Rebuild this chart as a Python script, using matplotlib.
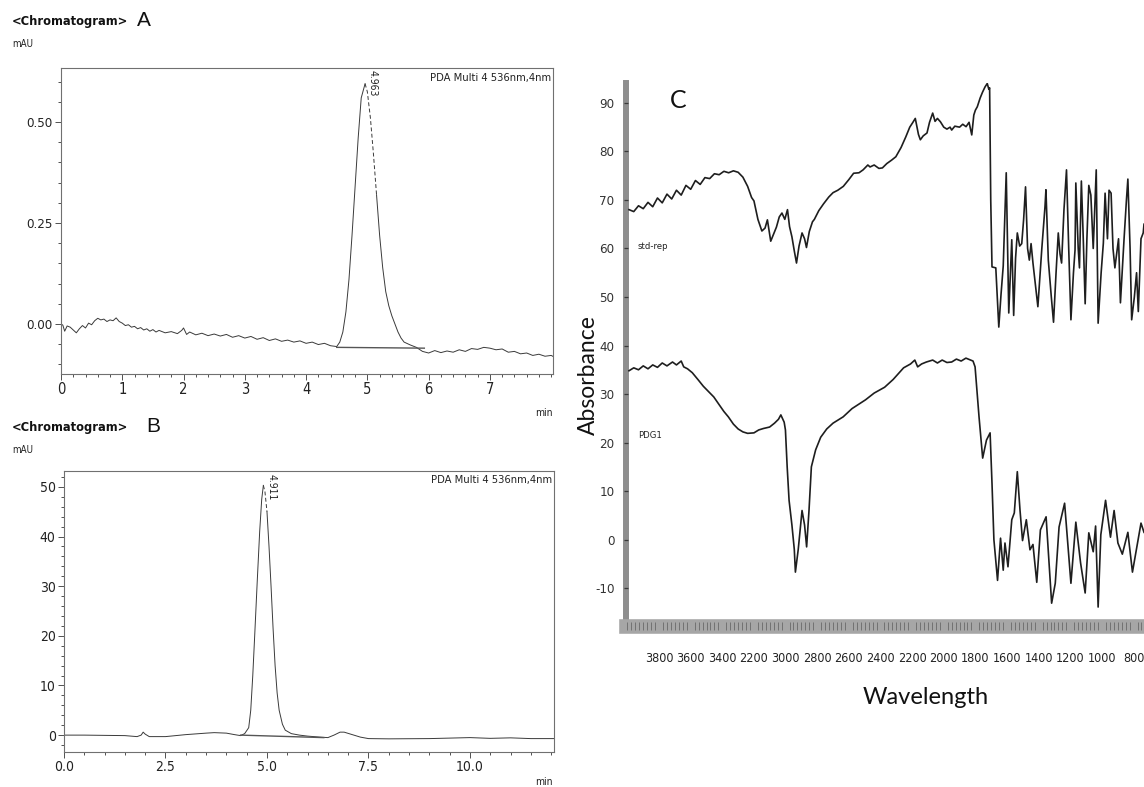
import numpy as np
import matplotlib
matplotlib.use('Agg')
import matplotlib.pyplot as plt
from matplotlib.ticker import MultipleLocator, FixedLocator, FormatStrFormatter

plt.rcParams['axes.unicode_minus'] = False

W, H = 1144, 787
NARROW = ['DejaVu Sans']
CALI = ['Lato', 'DejaVu Sans']

# ---------------- data: panel A (HPLC, standard) ----------------
a_time = [0.00, 0.03, 0.06, 0.10, 0.15, 0.20, 0.25, 0.30, 0.35, 0.40, 0.45, 0.50,
          0.55, 0.60, 0.65, 0.70, 0.75, 0.80, 0.85, 0.90, 0.95, 1.00, 1.05, 1.10,
          1.15, 1.20, 1.25, 1.30, 1.35, 1.40, 1.45, 1.50, 1.55, 1.60, 1.70, 1.80,
          1.90, 1.97, 2.00, 2.05, 2.10, 2.20, 2.30, 2.40, 2.50, 2.60, 2.70, 2.80,
          2.90, 3.00, 3.10, 3.20, 3.30, 3.40, 3.50, 3.60, 3.70, 3.80, 3.90, 4.00,
          4.10, 4.20, 4.30, 4.40, 4.50, 4.55, 4.60, 4.65, 4.70, 4.75, 4.80, 4.85,
          4.90, 4.963, 5.00, 5.05, 5.10, 5.15, 5.20, 5.25, 5.30, 5.35, 5.40, 5.45,
          5.50, 5.55, 5.60, 5.70, 5.80, 5.90, 6.00, 6.10, 6.20, 6.30, 6.40, 6.50,
          6.60, 6.70, 6.80, 6.90, 7.00, 7.10, 7.20, 7.30, 7.40, 7.50, 7.60, 7.70,
          7.80, 7.90, 8.00, 8.05]
a_mau = [0.000, -0.003, -0.018, -0.005, -0.008, -0.015, -0.022, -0.012, -0.004, -0.010,
         0.002, -0.002, 0.008, 0.014, 0.010, 0.012, 0.006, 0.010, 0.008, 0.015, 0.006,
         0.002, -0.004, -0.002, -0.008, -0.006, -0.012, -0.009, -0.015, -0.012, -0.018,
         -0.014, -0.020, -0.016, -0.022, -0.019, -0.024, -0.016, -0.010, -0.026, -0.020,
         -0.027, -0.023, -0.029, -0.025, -0.030, -0.026, -0.033, -0.029, -0.035, -0.031,
         -0.038, -0.034, -0.041, -0.037, -0.043, -0.040, -0.045, -0.042, -0.048, -0.045,
         -0.051, -0.048, -0.054, -0.056, -0.045, -0.020, 0.030, 0.110, 0.220, 0.340,
         0.460, 0.560, 0.595, 0.575, 0.510, 0.420, 0.320, 0.220, 0.140, 0.080, 0.045,
         0.020, 0.000, -0.020, -0.035, -0.045, -0.052, -0.058, -0.068, -0.072, -0.066,
         -0.071, -0.067, -0.070, -0.064, -0.068, -0.061, -0.063, -0.058, -0.060, -0.064,
         -0.062, -0.070, -0.068, -0.074, -0.072, -0.078, -0.075, -0.080, -0.078, -0.082]
a_base_t = [4.50, 5.93]
a_base_y = [-0.058, -0.060]
a_rt = 4.963

# ---------------- data: panel B (HPLC, sample) ----------------
b_time = [0.0, 0.5, 1.0, 1.5, 1.8, 1.9, 1.95, 2.0, 2.1, 2.5, 3.0, 3.5, 3.7, 4.0, 4.2,
          4.35, 4.45, 4.55, 4.60, 4.65, 4.70, 4.76, 4.82, 4.87, 4.911, 4.95, 5.00, 5.05,
          5.10, 5.15, 5.20, 5.25, 5.30, 5.38, 5.45, 5.60, 5.80, 6.00, 6.30, 6.50, 6.65,
          6.80, 6.90, 7.10, 7.30, 7.50, 8.00, 9.00, 10.0, 10.5, 11.0, 11.5, 12.1]
b_mau = [0.0, 0.0, -0.05, -0.1, -0.3, 0.0, 0.6, 0.2, -0.3, -0.3, 0.1, 0.4, 0.5, 0.4,
         0.1, -0.1, 0.3, 1.5, 5.0, 12.0, 20.5, 31.0, 41.0, 47.5, 50.3, 49.0, 45.0, 38.0,
         30.0, 21.5, 14.0, 8.5, 5.0, 2.2, 1.0, 0.3, 0.0, -0.2, -0.4, -0.5, 0.0, 0.6, 0.6,
         0.1, -0.4, -0.7, -0.75, -0.7, -0.5, -0.65, -0.55, -0.7, -0.7]
b_base_t = [4.35, 6.40]
b_base_y = [0.0, -0.5]
b_rt = 4.911

# ---------------- data: panel C (IR spectra) ----------------
std_wn = [3990, 3960, 3930, 3900, 3870, 3840, 3810, 3780, 3750, 3720, 3690, 3660, 3630,
          3600, 3570, 3540, 3510, 3480, 3450, 3420, 3390, 3360, 3330, 3300, 3270, 3240,
          3215, 3200, 3175, 3150, 3130, 3115, 3094, 3075, 3058, 3040, 3023, 3005, 2988,
          2975, 2960, 2945, 2931, 2915, 2896, 2880, 2868, 2850, 2830, 2818, 2790, 2760,
          2727, 2700, 2670, 2635, 2600, 2570, 2536, 2510, 2480, 2466, 2440, 2410, 2388,
          2360, 2330, 2303, 2270, 2240, 2215, 2197, 2180, 2160, 2148, 2130, 2106, 2090,
          2070, 2055, 2040, 2021, 2000, 1980, 1960, 1950, 1930, 1900, 1880, 1859, 1840,
          1823, 1810, 1800, 1788, 1770, 1755, 1739, 1725, 1715, 1710, 1703, 1695, 1671,
          1652, 1638, 1624, 1605, 1589, 1570, 1558, 1546, 1535, 1520, 1507, 1495, 1483,
          1470, 1459, 1448, 1436, 1405, 1380, 1360, 1354, 1339, 1320, 1306, 1290, 1276,
          1265, 1255, 1240, 1224, 1210, 1196, 1180, 1170, 1165, 1150, 1142, 1130, 1118,
          1106, 1095, 1083, 1070, 1055, 1036, 1024, 1005, 991, 980, 965, 955, 942, 930,
          918, 895, 883, 860, 845, 836, 822, 812, 795, 781, 770, 753, 739, 734]
std_abs = [68.0, 67.6, 68.8, 68.2, 69.5, 68.6, 70.4, 69.4, 71.2, 70.2, 72.0, 71.0, 73.0,
           72.2, 74.0, 73.2, 74.6, 74.4, 75.4, 75.2, 75.9, 75.6, 76.0, 75.7, 74.7, 72.8,
           70.5, 69.8, 66.0, 63.6, 64.2, 65.9, 61.5, 63.0, 64.4, 66.5, 67.3, 66.0, 68.0,
           64.5, 62.4, 59.5, 57.0, 60.5, 63.2, 62.0, 60.2, 63.5, 65.5, 66.0, 67.8, 69.2,
           70.6, 71.5, 72.0, 72.8, 74.2, 75.5, 75.6, 76.2, 77.2, 76.8, 77.2, 76.5, 76.6,
           77.5, 78.2, 78.9, 80.8, 83.0, 85.0, 85.9, 86.8, 83.5, 82.4, 83.2, 83.8, 86.0,
           87.9, 86.2, 86.8, 86.1, 85.0, 84.6, 85.0, 84.4, 85.2, 85.0, 85.6, 85.1, 86.0,
           83.4, 87.5, 88.5, 89.2, 91.0, 92.2, 93.3, 94.0, 92.8, 93.1, 70.0, 56.2, 56.0,
           43.8, 50.5, 56.4, 75.6, 46.7, 61.8, 46.2, 58.0, 63.2, 60.5, 61.0, 66.0, 72.7,
           60.0, 57.6, 61.0, 57.0, 48.0, 60.0, 68.6, 72.1, 57.6, 50.0, 44.8, 55.0, 63.2,
           58.9, 57.0, 68.0, 76.2, 60.0, 45.3, 55.0, 59.7, 73.5, 60.0, 56.0, 73.9, 62.0,
           48.6, 62.0, 73.0, 71.0, 60.0, 76.2, 44.6, 55.0, 61.1, 71.4, 62.0, 72.0, 71.4,
           60.0, 56.0, 62.0, 48.8, 62.0, 70.0, 74.3, 60.0, 45.3, 50.0, 55.0, 47.0, 62.0,
           63.2, 65.0]

pdg_wn = [3990, 3960, 3930, 3900, 3870, 3840, 3810, 3780, 3750, 3715, 3690, 3660, 3644,
          3620, 3590, 3552, 3520, 3490, 3454, 3420, 3390, 3362, 3330, 3300, 3270, 3240,
          3200, 3170, 3140, 3101, 3070, 3045, 3030, 3009, 3001, 2990, 2978, 2960, 2945,
          2938, 2920, 2905, 2896, 2880, 2867, 2852, 2837, 2810, 2778, 2740, 2700, 2636,
          2580, 2495, 2440, 2374, 2320, 2254, 2210, 2183, 2165, 2140, 2110, 2070, 2040,
          2010, 1980, 1950, 1920, 1890, 1860, 1830, 1815, 1802, 1777, 1754, 1730, 1707,
          1695, 1683, 1660, 1641, 1624, 1613, 1594, 1570, 1554, 1535, 1518, 1502, 1478,
          1455, 1436, 1412, 1389, 1353, 1318, 1295, 1271, 1236, 1196, 1165, 1135, 1106,
          1083, 1055, 1040, 1024, 1007, 977, 946, 923, 899, 871, 836, 807, 753, 734]
pdg_abs = [34.8, 35.4, 35.0, 35.8, 35.2, 36.0, 35.5, 36.4, 35.8, 36.6, 36.0, 36.8, 35.6,
           35.2, 34.4, 32.9, 31.6, 30.6, 29.4, 27.8, 26.4, 25.3, 23.8, 22.8, 22.2, 21.9,
           22.0, 22.6, 22.9, 23.2, 24.0, 24.8, 25.7, 24.2, 22.6, 15.0, 8.1, 3.0, -2.0,
           -6.7, -2.0, 3.0, 6.0, 3.0, -1.5, 6.0, 15.0, 18.5, 21.1, 22.8, 24.0, 25.3, 27.0,
           28.8, 30.2, 31.4, 33.0, 35.4, 36.2, 37.0, 35.6, 36.2, 36.6, 37.0, 36.4, 37.0,
           36.5, 36.6, 37.2, 36.8, 37.4, 37.0, 36.8, 35.6, 25.3, 16.8, 20.5, 22.0, 11.6,
           0.0, -8.4, 0.3, -6.3, -0.7, -5.6, 4.1, 5.5, 14.0, 6.1, -0.2, 4.1, -2.1, -1.0,
           -8.8, 2.0, 4.7, -13.1, -9.0, 2.6, 7.5, -9.0, 3.6, -4.8, -11.0, 1.4, -2.5, 2.8,
           -13.9, 1.0, 8.1, 0.5, 6.0, -0.7, -3.0, 1.5, -6.7, 3.4, 1.5]

c_tick_pos = [3800, 3600, 3400, 3200, 3000, 2800, 2600, 2400, 2200, 2000, 1800, 1600,
              1400, 1200, 1000, 800]
c_tick_lab = ['3800', '3600', '3400', '2200', '3000', '2800', '2600', '2400', '2200',
              '2000', '1800', '1600', '1400', '1200', '1000', '800']


def fx(px):
    return px / W


def fy(py):
    return 1 - py / H


def narrow(lab, size):
    lab.set_family(NARROW)
    lab.set_stretch('condensed')
    lab.set_fontsize(size)


def hplc_axes(rect):
    ax = fig.add_axes(rect)
    for s in ax.spines.values():
        s.set_color('#707070')
        s.set_linewidth(0.8)
    ax.tick_params(which='both', direction='out', color='#505050', width=0.7,
                   labelcolor='#222222')
    ax.tick_params(which='major', length=4, pad=2)
    ax.tick_params(which='minor', length=2.5)
    return ax


def draw_chrom(ax, t, y, rt, dash_end, base_t, base_y):
    t = np.asarray(t)
    y = np.asarray(y, dtype=float)
    dash = (t >= rt) & (t <= dash_end)
    solid = y.copy()
    solid[(t > rt) & (t < dash_end)] = np.nan
    ax.plot(t, solid, color='#3a3a3a', lw=0.7)
    ax.plot(t[dash], y[dash], color='#3a3a3a', lw=0.7, ls=(0, (4, 2.5)))
    ax.plot(base_t, base_y, color='#555555', lw=1.0)


fig = plt.figure(figsize=(W / 100, H / 100), dpi=100)

# ---------------- panel A ----------------
axA = hplc_axes([fx(61), fy(374), fx(553 - 61), (374 - 68) / H])
draw_chrom(axA, a_time, a_mau, a_rt, 5.15, a_base_t, a_base_y)
axA.set_xlim(0, 8.03)
axA.set_ylim(-0.124, 0.634)
axA.xaxis.set_major_locator(FixedLocator([0, 1, 2, 3, 4, 5, 6, 7]))
axA.xaxis.set_minor_locator(MultipleLocator(0.2))
axA.yaxis.set_major_locator(FixedLocator([0.0, 0.25, 0.5]))
axA.yaxis.set_minor_locator(MultipleLocator(0.05))
axA.yaxis.set_major_formatter(FormatStrFormatter('%.2f'))
for lab in axA.get_xticklabels():
    narrow(lab, 10.5)
for lab in axA.get_yticklabels():
    narrow(lab, 9.5)
axA.text(5.08, 0.628, '4.963', rotation=-90, ha='center', va='top',
         family=NARROW, stretch='condensed', fontsize=7.5, color='#222222')
axA.text(0.997, 0.985, 'PDA Multi 4 536nm,4nm', transform=axA.transAxes,
         ha='right', va='top', family=NARROW, stretch='condensed', fontsize=8,
         color='#222222')

# ---------------- panel B ----------------
axB = hplc_axes([fx(64), fy(752), fx(554 - 64), (752 - 471) / H])
draw_chrom(axB, b_time, b_mau, b_rt, 5.0, b_base_t, b_base_y)
axB.set_xlim(0, 12.07)
axB.set_ylim(-3.4, 53.2)
axB.xaxis.set_major_locator(FixedLocator([0, 2.5, 5, 7.5, 10]))
axB.xaxis.set_minor_locator(MultipleLocator(0.5))
axB.xaxis.set_major_formatter(FormatStrFormatter('%.1f'))
axB.yaxis.set_major_locator(FixedLocator([0, 10, 20, 30, 40, 50]))
axB.yaxis.set_minor_locator(MultipleLocator(2))
for lab in axB.get_xticklabels() + axB.get_yticklabels():
    narrow(lab, 10)
axB.text(5.12, 52.6, '4.911', rotation=-90, ha='center', va='top',
         family=NARROW, stretch='condensed', fontsize=7.5, color='#222222')
axB.text(0.997, 0.985, 'PDA Multi 4 536nm,4nm', transform=axB.transAxes,
         ha='right', va='top', family=NARROW, stretch='condensed', fontsize=8,
         color='#222222')

# headings of A and B
for ytop, letter, xl, ymau, ymin in [(21, 'A', 137, 44, 413), (428, 'B', 146, 450, 782)]:
    fig.text(fx(12), fy(ytop), '<Chromatogram>', ha='left', va='center',
             family=NARROW, stretch='condensed', fontsize=9.2, fontweight='bold',
             color='#111111')
    fig.text(fx(xl), fy(ytop - 1), letter, ha='left', va='center',
             family=['Liberation Sans', 'DejaVu Sans'], fontsize=15, color='#111111')
    fig.text(fx(12), fy(ymau), 'mAU', ha='left', va='center', family=NARROW,
             stretch='condensed', fontsize=7, color='#222222')
    fig.text(fx(553), fy(ymin), 'min', ha='right', va='center', family=NARROW,
             stretch='condensed', fontsize=7.5, color='#222222')

# ---------------- panel C ----------------
axC = fig.add_axes([fx(626), fy(625.5), fx(W - 626), (625.5 - 83) / H])
axC.plot(std_wn, std_abs, color='#1e1e1e', lw=1.2)
axC.plot(pdg_wn, pdg_abs, color='#1e1e1e', lw=1.2)
axC.set_xlim(4009, 734)
axC.set_ylim(-17.7, 94.1)
axC.spines['top'].set_visible(False)
axC.spines['right'].set_visible(False)
axC.spines['left'].set_color('#8e8e8e')
axC.spines['left'].set_linewidth(4.3)
axC.spines['bottom'].set_color('#a6a6a6')
axC.spines['bottom'].set_linewidth(10.5)
axC.spines['left'].set_zorder(0.5)
axC.spines['bottom'].set_zorder(0.5)
axC.xaxis.set_major_locator(FixedLocator(c_tick_pos))
axC.set_xticklabels(c_tick_lab)
axC.xaxis.set_minor_locator(MultipleLocator(25))
axC.tick_params(axis='x', which='major', length=0, pad=19, labelcolor='#222222')
axC.tick_params(axis='x', which='minor', direction='inout', length=6, width=0.6,
                color='#6a6a6a')
axC.yaxis.set_major_locator(FixedLocator(list(range(-10, 91, 10))))
axC.tick_params(axis='y', which='major', direction='inout', length=3.5, width=0.9,
                color='#3a3a3a', pad=6.5, labelcolor='#333333')
for lab in axC.get_xticklabels():
    narrow(lab, 9)
for lab in axC.get_yticklabels():
    narrow(lab, 9.5)
axC.text(3730, 90.5, 'C', family=CALI, fontsize=18, ha='left', va='center',
         color='#111111')
axC.text(3935, 60.5, 'std-rep', family=NARROW, stretch='condensed', fontsize=6.8,
         ha='left', va='center', color='#222222')
axC.text(3935, 21.5, 'PDG1', family=NARROW, stretch='condensed', fontsize=6.8,
         ha='left', va='center', color='#222222')

fig.text(fx(588), fy(375), 'Absorbance', rotation=90, ha='center', va='center',
         family=CALI, fontsize=16.5, color='#111111')
fig.text(fx(926), fy(698), 'Wavelength', ha='center', va='center',
         family=CALI, fontsize=17, color='#111111')

fig.savefig('out.png', dpi=100)
